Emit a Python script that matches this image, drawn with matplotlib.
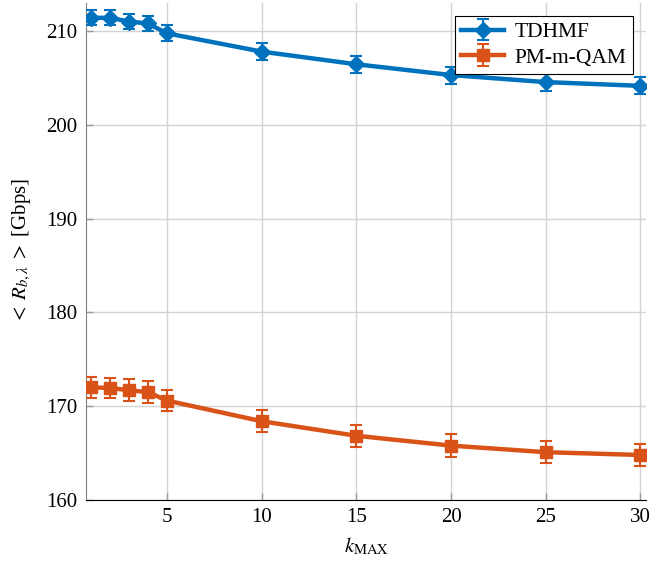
import matplotlib
matplotlib.use('Agg')
import matplotlib.pyplot as plt

k_max = [1, 2, 3, 4, 5, 10, 15, 20, 25, 30]
tdhmf = [211.4, 211.4, 211.0, 210.8, 209.75, 207.8, 206.45, 205.3, 204.55, 204.15]
tdhmf_err = [0.8, 0.8, 0.8, 0.8, 0.85, 0.9, 0.9, 0.9, 0.9, 0.9]
pm_qam = [172.0, 171.95, 171.7, 171.5, 170.6, 168.4, 166.85, 165.8, 165.1, 164.8]
pm_qam_err = [1.1, 1.1, 1.15, 1.15, 1.15, 1.2, 1.2, 1.2, 1.2, 1.2]

xticks = [5, 10, 15, 20, 25, 30]
yticks = [160, 170, 180, 190, 200, 210]


def main():
    plt.rcParams['font.family'] = ['Liberation Serif', 'DejaVu Serif']
    plt.rcParams['mathtext.fontset'] = 'stix'
    plt.rcParams['font.size'] = 15

    fig = plt.figure(figsize=(6.52, 5.65), dpi=100)
    ax = fig.add_axes([0.132, 0.115, 0.859, 0.88])

    blue = '#0072BD'
    orange = '#D95319'

    ax.errorbar(k_max, tdhmf, yerr=tdhmf_err, color=blue, lw=3.2, marker='D',
                ms=8, capsize=4, elinewidth=1.5, capthick=1.5, label='TDHMF', zorder=3)
    ax.errorbar(k_max, pm_qam, yerr=pm_qam_err, color=orange, lw=3.2, marker='s',
                ms=8.5, capsize=4, elinewidth=1.5, capthick=1.5, label='PM-m-QAM', zorder=3)

    ax.set_xlim(0.73, 30.3)
    ax.set_ylim(160, 213)
    ax.set_xticks(xticks)
    ax.set_yticks(yticks)
    ax.grid(True, color='#d3d3d3', lw=1)
    ax.set_axisbelow(True)

    ax.spines['top'].set_visible(False)
    ax.spines['right'].set_visible(False)
    ax.spines['left'].set_color('#808080')
    ax.spines['bottom'].set_color('black')
    ax.tick_params(direction='in', length=5, color='#999999', width=1, pad=6)

    ax.set_xlabel(r'$k_{\mathrm{MAX}}$', labelpad=6)
    ax.set_ylabel(r'$<\;R_{b,\lambda}\;>$ [Gbps]', labelpad=10)

    leg = ax.legend(loc='upper right', fancybox=False, edgecolor='black',
                    framealpha=1, fontsize=15.5, handlelength=2.0,
                    borderaxespad=0.6, borderpad=0.3, labelspacing=0.25,
                    handletextpad=0.5)
    leg.get_frame().set_linewidth(0.8)

    fig.savefig('out.png', dpi=100)


if __name__ == "__main__":
    main()
